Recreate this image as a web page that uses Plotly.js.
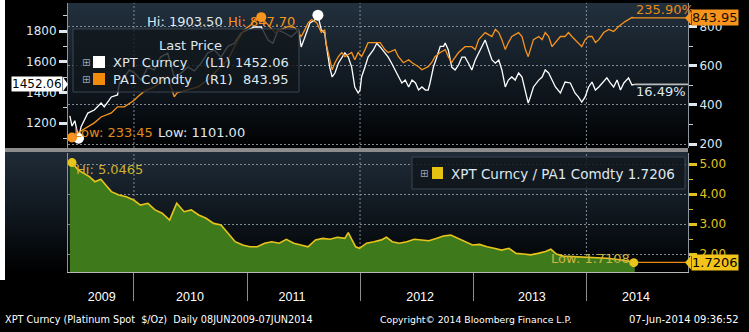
<!DOCTYPE html>
<html><head><meta charset="utf-8">
<script src="https://cdn.plot.ly/plotly-3.0.1.min.js"></script>
<style>
html,body{margin:0;padding:0;background:#000;width:749px;height:332px;overflow:hidden}
#bgTop{position:absolute;left:68px;top:3px;width:620px;height:145px;background:linear-gradient(#22303d,#0d141b 65%,#000)}
#bgBot{position:absolute;left:5px;top:152px;width:683px;height:120px;background:linear-gradient(#1f2b37,#0b1117 65%,#000)}
#white{position:absolute;left:0;top:0;width:5px;height:280px;background:#fff}
#chart{position:absolute;left:0;top:0;width:749px;height:332px}
</style></head><body>
<div id="white"></div><div id="bgTop"></div><div id="bgBot"></div><div id="chart"></div>
<script>
// ---------------- DATA ----------------
const xptDates = ['2009-06-08','2009-06-15','2009-06-24','2009-07-06','2009-07-14','2009-08-05','2009-08-26','2009-09-17','2009-09-27','2009-10-20','2009-11-09','2009-11-15','2009-12-01','2009-12-17','2010-01-03','2010-01-24','2010-02-15','2010-03-08','2010-03-28','2010-04-20','2010-05-11','2010-06-02','2010-06-24','2010-07-15','2010-08-06','2010-08-27','2010-09-18','2010-10-09','2010-10-31','2010-11-21','2010-12-13','2011-01-04','2011-01-25','2011-02-16','2011-03-10','2011-03-26','2011-04-11','2011-05-03','2011-05-24','2011-06-16','2011-06-25','2011-07-07','2011-07-23','2011-08-08','2011-08-18','2011-08-29','2011-09-09','2011-09-13','2011-09-25','2011-10-03','2011-10-12','2011-10-23','2011-11-03','2011-11-13','2011-11-24','2011-12-05','2011-12-15','2011-12-26','2012-01-01','2012-01-06','2012-01-17','2012-01-27','2012-02-13','2012-02-24','2012-03-06','2012-03-21','2012-04-01','2012-04-12','2012-04-23','2012-05-04','2012-05-15','2012-05-26','2012-06-06','2012-06-17','2012-06-28','2012-07-08','2012-07-19','2012-07-30','2012-08-08','2012-08-14','2012-08-25','2012-09-05','2012-09-16','2012-09-27','2012-10-02','2012-10-12','2012-10-23','2012-11-03','2012-11-14','2012-11-25','2012-12-05','2012-12-16','2012-12-27','2013-01-07','2013-01-18','2013-01-29','2013-02-08','2013-02-19','2013-03-02','2013-03-13','2013-03-24','2013-04-03','2013-04-14','2013-04-24','2013-05-05','2013-05-16','2013-05-27','2013-06-07','2013-06-18','2013-06-27','2013-07-04','2013-07-14','2013-07-31','2013-08-11','2013-08-21','2013-09-01','2013-09-12','2013-09-23','2013-10-09','2013-10-24','2013-11-10','2013-11-25','2013-12-06','2013-12-17','2013-12-28','2014-01-08','2014-01-19','2014-01-30','2014-02-10','2014-02-21','2014-03-08','2014-03-19','2014-03-30','2014-04-10','2014-04-21','2014-05-02','2014-05-17','2014-05-28','2014-06-06'];
const xptValues = [1246.50,1180,1215,1101.00,1174,1265,1285,1330,1305,1370,1383,1460,1500,1545,1526,1480,1565,1546,1630,1655,1500,1525,1565,1540,1590,1657,1676,1630,1700,1720,1787,1806,1826,1826,1741,1720,1806,1787,1761,1806,1696,1761,1852,1872,1903.50,1806,1787,1720,1565,1500,1526,1590,1630,1657,1630,1565,1435,1396,1415,1500,1565,1630,1676,1720,1696,1657,1630,1590,1546,1500,1461,1480,1435,1480,1461,1415,1435,1415,1415,1461,1565,1630,1700,1700,1722,1676,1565,1546,1578,1630,1630,1590,1546,1611,1657,1709,1741,1676,1611,1590,1611,1546,1435,1480,1500,1480,1526,1500,1415,1330,1370,1435,1480,1500,1546,1526,1480,1435,1396,1467,1461,1396,1370,1337,1370,1435,1467,1415,1435,1461,1494,1461,1435,1480,1415,1461,1494,1448,1452.06];

const paDates = ['2009-06-08','2009-06-15','2009-07-03','2009-08-05','2009-08-26','2009-09-17','2009-10-20','2009-11-09','2009-12-01','2010-01-03','2010-01-13','2010-02-04','2010-03-08','2010-04-20','2010-05-11','2010-05-20','2010-06-24','2010-07-27','2010-08-27','2010-09-28','2010-10-31','2010-12-03','2010-12-24','2011-01-15','2011-01-26','2011-02-16','2011-03-10','2011-04-01','2011-04-22','2011-05-14','2011-06-04','2011-06-25','2011-07-07','2011-07-18','2011-07-29','2011-08-14','2011-08-29','2011-09-09','2011-09-13','2011-09-25','2011-10-03','2011-10-12','2011-10-23','2011-11-03','2011-11-13','2011-12-05','2011-12-15','2011-12-26','2012-01-06','2012-01-17','2012-01-27','2012-02-20','2012-03-06','2012-03-21','2012-04-01','2012-04-23','2012-05-04','2012-05-20','2012-06-06','2012-06-17','2012-07-08','2012-07-19','2012-08-08','2012-08-19','2012-08-30','2012-09-16','2012-10-02','2012-10-12','2012-10-23','2012-10-28','2012-11-14','2012-12-05','2012-12-27','2013-01-07','2013-01-18','2013-02-08','2013-03-02','2013-03-13','2013-03-24','2013-04-03','2013-04-14','2013-04-24','2013-05-05','2013-05-27','2013-06-07','2013-06-18','2013-06-27','2013-07-04','2013-07-14','2013-07-31','2013-08-11','2013-08-21','2013-09-01','2013-09-12','2013-09-23','2013-10-09','2013-10-24','2013-11-04','2013-11-15','2013-11-25','2013-12-06','2013-12-17','2013-12-28','2014-01-08','2014-01-19','2014-01-30','2014-02-10','2014-02-26','2014-03-14','2014-03-30','2014-04-15','2014-05-06','2014-05-28','2014-06-06'];
const paValues = [251.25,233.45,256,287,308,338,359,390,390,425,441,470,492,544,441,461,477,492,528,580,630,733,785,810,836,847.70,810,769,785,800,795,749,784,820,836,820,769,784,718,630,579,615,646,667,646,667,630,667,646,682,718,718,718,682,667,682,646,615,630,615,595,579,595,615,646,667,682,646,615,630,667,697,697,682,733,769,749,785,769,733,682,718,749,769,749,682,646,682,733,749,733,769,749,697,718,749,749,769,749,733,718,697,733,749,749,718,733,769,785,775,800,825,846,843.95];

const ratioDates = ['2009-06-08','2009-06-15','2009-07-05','2009-08-10','2009-08-28','2009-09-16','2009-09-27','2009-10-20','2009-11-13','2009-12-07','2009-12-31','2010-01-22','2010-02-15','2010-03-10','2010-04-02','2010-04-26','2010-05-19','2010-06-12','2010-07-05','2010-07-29','2010-08-22','2010-09-15','2010-10-09','2010-11-01','2010-11-24','2010-12-18','2011-01-10','2011-02-03','2011-02-27','2011-03-22','2011-04-15','2011-05-08','2011-06-01','2011-06-24','2011-07-17','2011-08-10','2011-09-03','2011-09-26','2011-10-20','2011-11-13','2011-11-24','2011-12-06','2011-12-18','2011-12-30','2012-01-22','2012-02-15','2012-03-10','2012-03-26','2012-04-14','2012-05-07','2012-05-31','2012-06-24','2012-07-17','2012-08-10','2012-09-03','2012-09-26','2012-10-20','2012-11-12','2012-12-05','2012-12-29','2013-01-21','2013-02-14','2013-03-09','2013-04-02','2013-04-26','2013-05-19','2013-06-12','2013-07-05','2013-07-29','2013-08-22','2013-09-08','2013-09-26','2013-10-19','2013-12-05','2014-01-21','2014-03-09','2014-04-25','2014-06-03','2014-06-06'];
const ratioValues = [4.96,5.0465,4.80,4.58,4.41,4.49,4.36,4.08,3.97,3.91,3.80,3.63,3.69,3.47,3.36,3.13,3.69,3.41,3.47,3.30,3.19,3.02,2.97,2.69,2.41,2.30,2.24,2.24,2.36,2.41,2.36,2.49,2.36,2.30,2.24,2.47,2.52,2.49,2.56,2.52,2.71,2.47,2.24,2.19,2.36,2.41,2.47,2.56,2.41,2.36,2.41,2.49,2.47,2.44,2.52,2.60,2.63,2.52,2.41,2.30,2.32,2.24,2.19,2.13,2.19,2.02,2.00,1.97,2.02,2.08,2.16,2.00,1.93,1.91,1.89,1.86,1.80,1.7108,1.7206];

const yearLabels = ['2009','2010','2011','2012','2013','2014'];
const yearLabelDates = ['2009-09-19','2010-07-01','2011-05-26','2012-07-13','2013-07-09','2014-06-10'];
const yearStarts = ['2010-01-01','2011-01-01','2012-01-01','2013-01-01','2014-01-01'];
const gridYears = ['2010-01-01','2012-01-01','2014-01-01'];
const leftTicks = [1200,1400,1600,1800];
const leftMinor = [1100,1300,1500,1700,1900];
const rightTicks = [200,400,600,800];
const rightMinor = [300,500,700];
const ratioTicks = [2,3,4,5];
const ratioMinor = [2.5,3.5,4.5];

// ---------------- LAYOUT HELPERS ----------------
const L=68, R=688, T=3, B=272;
const px = x => (x-L)/(R-L);
const py = y => (B-y)/(B-T);
const F = 'DejaVu Sans, Verdana, sans-serif';
const FL = 'Liberation Sans, Arial, sans-serif';
const xRange = ['2009-06-02','2014-11-25'];
const yRange = [1037,1982.6], y2Range = [179.6,920], y3Range = [1.4,5.367];
const WHITE='#ffffff', ORANGE='#f7941d', YEL='#e8c41c', TXT='#dfe7ef';

function hiLo(vals){let hi=0,lo=0;vals.forEach((v,i)=>{if(v>vals[hi])hi=i;if(v<vals[lo])lo=i;});return {hi,lo};}
const xh=hiLo(xptValues), ph=hiLo(paValues), rh=hiLo(ratioValues);
const last = a => a[a.length-1];
const pct = a => ((last(a)/a[0]-1)*100).toFixed(2)+'%';

const traces = [
 {x:paDates,y:paValues,yaxis:'y2',type:'scatter',mode:'lines',line:{color:ORANGE,width:1.3},hoverinfo:'skip'},
 {x:xptDates,y:xptValues,yaxis:'y',type:'scatter',mode:'lines',line:{color:WHITE,width:1.3},hoverinfo:'skip'},
 {x:ratioDates,y:ratioValues,yaxis:'y3',type:'scatter',mode:'lines',fill:'tozeroy',fillcolor:'#3e7a1c',line:{color:YEL,width:1.6},hoverinfo:'skip'},
 {x:[last(xptDates),xRange[1]],y:[last(xptValues),last(xptValues)],yaxis:'y',mode:'lines',line:{color:'#b9bcbf',width:1.6},cliponaxis:false},
 {x:[last(paDates),xRange[1]],y:[last(paValues),last(paValues)],yaxis:'y2',mode:'lines',line:{color:ORANGE,width:1.4},cliponaxis:false},
 {x:[last(ratioDates),xRange[1]],y:[last(ratioValues),last(ratioValues)],yaxis:'y3',mode:'lines',line:{color:'#e8890e',width:1.4},cliponaxis:false},
 {x:[paDates[ph.hi],paDates[ph.lo]],y:[paValues[ph.hi],paValues[ph.lo]],yaxis:'y2',mode:'markers',marker:{color:ORANGE,size:10},cliponaxis:false},
 {x:[xptDates[xh.hi],xptDates[xh.lo]],y:[xptValues[xh.hi],xptValues[xh.lo]],yaxis:'y',mode:'markers',marker:{color:WHITE,size:11},cliponaxis:false},
 {x:[ratioDates[rh.hi],ratioDates[rh.lo]],y:[ratioValues[rh.hi],ratioValues[rh.lo]],yaxis:'y3',mode:'markers',marker:{color:YEL,size:9},cliponaxis:false}
];

function txt(text,x,y,anchor,color,size,extra){
  return Object.assign({text:text,xref:'paper',yref:'paper',x:px(x),y:py(y),xanchor:anchor,yanchor:'middle',showarrow:false,font:{family:F,size:size,color:color}},extra||{});
}
const annotations = [
 txt('Hi: '+xptValues[xh.hi].toFixed(2),225,21,'right','#dfe7ef',13),
 txt('Hi: '+paValues[ph.hi].toFixed(2),226,21,'left',ORANGE,13),
 txt('Low: '+paValues[ph.lo].toFixed(2),72,132,'left','#e08a1a',13),
 txt('Low: '+xptValues[xh.lo].toFixed(2),156,132,'left','#dfe7ef',13),
 txt(pct(paValues),634,10,'left','#e88a1a',13),
 txt(pct(xptValues),634,92,'left','#dfe7ef',13),
 txt('Hi: '+ratioValues[rh.hi].toFixed(4),74,169,'left','#cdb22a',13),
 txt('Low: '+ratioValues[rh.lo].toFixed(4),632,258,'right','#cdb540',13),
 // legend top
 txt('Last Price',190,46,'center',TXT,13),
 txt('⊞',86,62,'center','#9aa4ae',10),
 txt('⊞',86,79,'center','#9aa4ae',10),
 txt('XPT Curncy',111,62,'left',TXT,13),
 txt('(L1)',203,62,'left',TXT,13),
 txt(last(xptValues).toFixed(2),291,62,'right',TXT,13),
 txt('PA1 Comdty',111,79,'left',TXT,13),
 txt('(R1)',203,79,'left',TXT,13),
 txt(last(paValues).toFixed(2),291,79,'right',TXT,13),
 // legend bottom
 txt('⊞',424,173,'center','#9aa4ae',10),
 txt('XPT Curncy / PA1 Comdty '+last(ratioValues).toFixed(4),449,174,'left',TXT,13.5),
 // axis value boxes
 {text:last(xptValues).toFixed(2),xref:'paper',yref:'y',x:px(63),y:last(xptValues),xanchor:'right',yanchor:'middle',showarrow:false,bgcolor:'#ffffff',borderpad:0,font:{family:F,size:12,color:'#000'}},
 {text:last(paValues).toFixed(2),xref:'paper',yref:'y2',x:px(691),y:last(paValues),xanchor:'left',yanchor:'middle',showarrow:false,bgcolor:'#f7941d',borderpad:0,font:{family:F,size:13,color:'#1a0c00'}},
 {text:last(ratioValues).toFixed(4),xref:'paper',yref:'y3',x:px(691),y:last(ratioValues),xanchor:'left',yanchor:'middle',showarrow:false,bgcolor:'#f2c41a',borderpad:0,font:{family:F,size:13,color:'#000'}},
 // footer
 txt('XPT Curncy (Platinum Spot  $/Oz)  Daily 08JUN2009-07JUN2014',3,319,'left','#ffffff',9.7),
 txt('Copyright© 2014 Bloomberg Finance L.P.',378,319,'left','#ffffff',9.3),
 txt('07-Jun-2014 09:36:52',741,319,'right','#ffffff',10)
];

const shapes = [];
gridYears.forEach(d=>{
  shapes.push({type:'line',xref:'x',yref:'paper',x0:d,x1:d,y0:0,y1:1,layer:'below',line:{color:'#7f8a95',width:1,dash:'2px,2px'}});
});
// panel separator band
shapes.push({type:'rect',xref:'paper',yref:'paper',x0:px(5),x1:1,y0:py(152),y1:py(148),fillcolor:'#8c8c8c',line:{width:0},layer:'above'});
// legend boxes
shapes.push({type:'rect',xref:'paper',yref:'paper',x0:px(73),x1:px(299),y0:py(92),y1:py(29),fillcolor:'rgba(16,22,28,0.80)',line:{color:'#3a4550',width:1},layer:'above'});
shapes.push({type:'rect',xref:'paper',yref:'paper',x0:px(412),x1:px(685),y0:py(189),y1:py(157),fillcolor:'rgba(16,22,28,0.85)',line:{color:'#3a4550',width:1},layer:'above'});
// legend swatches
shapes.push({type:'rect',xref:'paper',yref:'paper',x0:px(93),x1:px(105),y0:py(68),y1:py(56),fillcolor:'#ffffff',line:{width:0},layer:'above'});
shapes.push({type:'rect',xref:'paper',yref:'paper',x0:px(93),x1:px(105),y0:py(85),y1:py(73),fillcolor:'#f28a0c',line:{width:0},layer:'above'});
shapes.push({type:'rect',xref:'paper',yref:'paper',x0:px(432),x1:px(443),y0:py(179),y1:py(167),fillcolor:'#e6c212',line:{width:0},layer:'above'});
// pointer tips of the axis value boxes (half-height in axis units from the axis scale)
function tip(yref, range, domPx, val, xBase, xTip, color){
  const unitPerPx = (range[1]-range[0])/domPx, h = 7*unitPerPx;
  const a = px(xBase), b = px(xTip);
  return {type:'path',xref:'paper',yref:yref,path:`M ${a} ${val-h} L ${b} ${val} L ${a} ${val+h} Z`,fillcolor:color,line:{width:0},layer:'above'};
}
shapes.push(tip('y',yRange,145,last(xptValues),63,68,'#ffffff'));
shapes.push(tip('y2',y2Range,145,last(paValues),691,685,'#f7941d'));
shapes.push(tip('y3',y3Range,119,last(ratioValues),691,685,'#f2c41a'));

const axFont = {family:F,size:12,color:TXT};
const layout = {
  width:749,height:332,
  margin:{l:L,r:749-R,t:T,b:332-B,pad:0},
  paper_bgcolor:'rgba(0,0,0,0)',plot_bgcolor:'rgba(0,0,0,0)',
  showlegend:false,hovermode:false,
  xaxis:{type:'date',range:xRange,domain:[0,1],anchor:'y3',tickmode:'array',tickvals:yearLabelDates,ticktext:yearLabels,
    ticks:'',showgrid:false,zeroline:false,showline:true,linecolor:'#b8b8b8',linewidth:1,
    tickfont:{family:FL,size:12.5,color:'#ffffff'},ticklabelstandoff:13,
    minor:{tickmode:'array',tickvals:yearStarts,ticks:'outside',ticklen:28,tickcolor:'#8c8c8c',tickwidth:1,showgrid:false}},
  yaxis:{domain:[py(148),1],range:yRange,side:'left',anchor:'x',tickmode:'array',tickvals:leftTicks,
    ticks:'outside',ticklen:8,tickwidth:3,tickcolor:TXT,tickfont:axFont,showgrid:false,zeroline:false,showline:true,linecolor:'#8c949c',
    minor:{tickmode:'array',tickvals:leftMinor,ticks:'outside',ticklen:4,tickwidth:1,tickcolor:'#c9d0d7'}},
  yaxis2:{overlaying:'y',side:'right',anchor:'x',range:y2Range,tickmode:'array',tickvals:rightTicks,
    ticks:'outside',ticklen:8,tickwidth:3,tickcolor:TXT,tickfont:axFont,showgrid:true,gridcolor:'#7f8a95',griddash:'2px,2px',gridwidth:1,
    zeroline:false,showline:true,linecolor:'#8c949c',
    minor:{tickmode:'array',tickvals:rightMinor,ticks:'outside',ticklen:4,tickwidth:1,tickcolor:'#c9d0d7'}},
  yaxis3:{domain:[0,py(153)],range:y3Range,side:'right',anchor:'x',tickmode:'array',tickvals:ratioTicks,tickformat:'.2f',
    ticks:'outside',ticklen:8,tickwidth:3,tickcolor:'#e2c21e',tickfont:{family:F,size:12,color:'#e2c21e'},
    showgrid:true,gridcolor:'#7f8a95',griddash:'2px,2px',gridwidth:1,zeroline:false,showline:true,mirror:true,linecolor:'#8c949c',
    minor:{tickmode:'array',tickvals:ratioMinor,ticks:'outside',ticklen:4,tickwidth:1,tickcolor:'#d8bc22'}},
  shapes:shapes,
  annotations:annotations
};
Plotly.newPlot('chart',traces,layout,{staticPlot:true,displayModeBar:false});
</script>
</body></html>
